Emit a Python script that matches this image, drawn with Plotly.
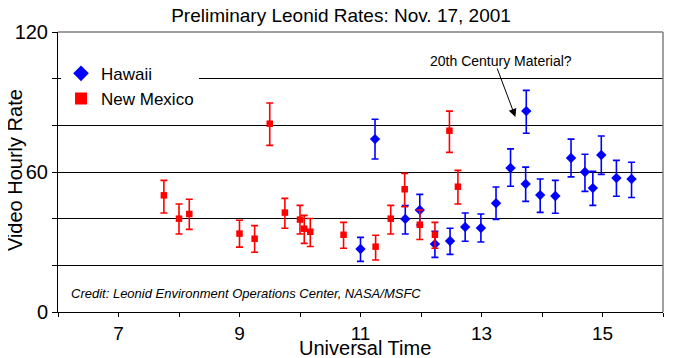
import plotly.graph_objects as go

# New Mexico (red squares)
nm_time = [7.75, 8.0, 8.17, 9.0, 9.25, 9.5, 9.75, 10.0, 10.07, 10.17, 10.72,
           11.25, 11.5, 11.73, 11.98, 12.23, 12.47, 12.61]
nm_rate = [50, 40, 42, 33.6, 31.4, 80.7, 42.6, 39.6, 35.7, 34.4, 33.1,
           28, 40, 52.6, 37.4, 33.1, 77.7, 53.7]
nm_hi = [56.4, 46.3, 48.3, 39.3, 37, 89.6, 48.7, 45.7, 41.4, 40.1, 38.4,
         32.9, 45.7, 59.4, 43.7, 38.4, 86.1, 60.7]
nm_lo = [42.4, 33.4, 35.4, 27.8, 25.6, 71.4, 35.9, 33.4, 29.4, 28.1, 27.3,
         22.3, 33.4, 45.1, 31.1, 27.3, 68.4, 46.3]

# Hawaii (blue diamonds)
hi_time = [11.0, 11.24, 11.74, 11.98, 12.23, 12.48, 12.73, 12.99, 13.24, 13.48,
           13.74, 13.73, 13.97, 14.22, 14.48, 14.71, 14.84, 14.98, 15.23, 15.48]
hi_rate = [27, 74.1, 39.9, 43.7, 29.1, 30.4, 36.4, 36, 46.6, 61.7,
           86.1, 54.9, 50.1, 49.7, 66, 60, 53.1, 67.3, 57.4, 57]
hi_hi = [32, 82.6, 45.6, 50.4, 34.6, 35.9, 42.4, 42, 53.6, 69.9,
         95, 62.1, 57, 56.4, 74.1, 67.6, 60.3, 75.4, 65, 64.2]
hi_lo = [21.7, 65.6, 33.4, 37.3, 23.4, 24.7, 30.3, 30, 39.7, 53.9,
         76.6, 47.4, 42.7, 42.3, 57.9, 51.7, 45.7, 59, 49.6, 49.1]

x_ticks = list(range(6, 17))
x_labels = [str(v) if v % 2 == 1 else "" for v in x_ticks]
y_ticks = [0, 20, 40, 60, 80, 100, 120]
y_labels = ["0", "", "", "60", "", "", "120"]

FONT = "Arial, Liberation Sans, sans-serif"

fig = go.Figure()
fig.add_trace(go.Scatter(
    x=hi_time, y=hi_rate, mode="markers", name="Hawaii",
    marker=dict(symbol="diamond", size=8, color="#0000FF"),
    error_y=dict(type="data", symmetric=False,
                 array=[h - v for h, v in zip(hi_hi, hi_rate)],
                 arrayminus=[v - l for l, v in zip(hi_lo, hi_rate)],
                 color="#0000FF", thickness=1.6, width=3.5),
))
fig.add_trace(go.Scatter(
    x=nm_time, y=nm_rate, mode="markers", name="New Mexico",
    marker=dict(symbol="square", size=6.5, color="#FF0000"),
    error_y=dict(type="data", symmetric=False,
                 array=[h - v for h, v in zip(nm_hi, nm_rate)],
                 arrayminus=[v - l for l, v in zip(nm_lo, nm_rate)],
                 color="#FF0000", thickness=1.6, width=3.5),
))

fig.update_layout(
    width=666, height=350,
    margin=dict(l=50, r=11, t=24, b=46),
    paper_bgcolor="white", plot_bgcolor="white",
    font=dict(family=FONT, color="black"),
    title=dict(text="Preliminary Leonid Rates: Nov. 17, 2001",
               x=0.5, xanchor="center", y=0.98, yanchor="middle",
               font=dict(size=19, color="black")),
    legend=dict(x=0.005, y=0.915, xanchor="left", yanchor="top",
                bgcolor="white", borderwidth=0,
                font=dict(size=17, color="black"),
                itemsizing="constant", tracegroupgap=0),
    xaxis=dict(range=[6, 16], tickvals=x_ticks, ticktext=x_labels,
               ticks="outside", ticklen=4, tickcolor="black",
               showline=True, linecolor="black", linewidth=1,
               showgrid=False, zeroline=False, automargin=False,
               tickfont=dict(size=19)),
    yaxis=dict(range=[0, 120], tickvals=y_ticks, ticktext=y_labels,
               ticks="outside", ticklen=5, tickcolor="black",
               showline=True, linecolor="black", linewidth=1,
               showgrid=True, gridcolor="black", gridwidth=1, zeroline=False,
               automargin=False, tickfont=dict(size=20)),
    showlegend=True,
)

# gray frame on top/right
fig.add_shape(type="line", xref="paper", yref="paper", x0=0, x1=1, y0=1, y1=1,
              line=dict(color="#808080", width=1.5), layer="above")
fig.add_shape(type="line", xref="paper", yref="paper", x0=1, x1=1, y0=0, y1=1,
              line=dict(color="#808080", width=1.5), layer="above")

# axis titles
fig.add_annotation(x=0.508, y=-0.127, xref="paper", yref="paper",
                   text="Universal Time", showarrow=False,
                   xanchor="center", yanchor="middle",
                   font=dict(size=20, color="black"))
fig.add_annotation(x=-0.071, y=0.507, xref="paper", yref="paper",
                   text="Video Hourly Rate", showarrow=False, textangle=-90,
                   xanchor="center", yanchor="middle",
                   font=dict(size=20, color="black"))

fig.add_annotation(x=13.56, y=83.6, ax=13.25, ay=105, xref="x", yref="y",
                   axref="x", ayref="y", text="", showarrow=True,
                   arrowhead=2, arrowsize=1.6, arrowwidth=1, arrowcolor="black")
fig.add_annotation(x=13.33, y=107.6, xref="x", yref="y",
                   text="20th Century Material?", showarrow=False,
                   font=dict(size=14, color="black"))
fig.add_annotation(x=0.018, y=8, xref="paper", yref="y", xanchor="left",
                   text="<i>Credit: Leonid Environment Operations Center, NASA/MSFC</i>",
                   showarrow=False, font=dict(size=13, color="black"))

fig.write_html("out.html")
